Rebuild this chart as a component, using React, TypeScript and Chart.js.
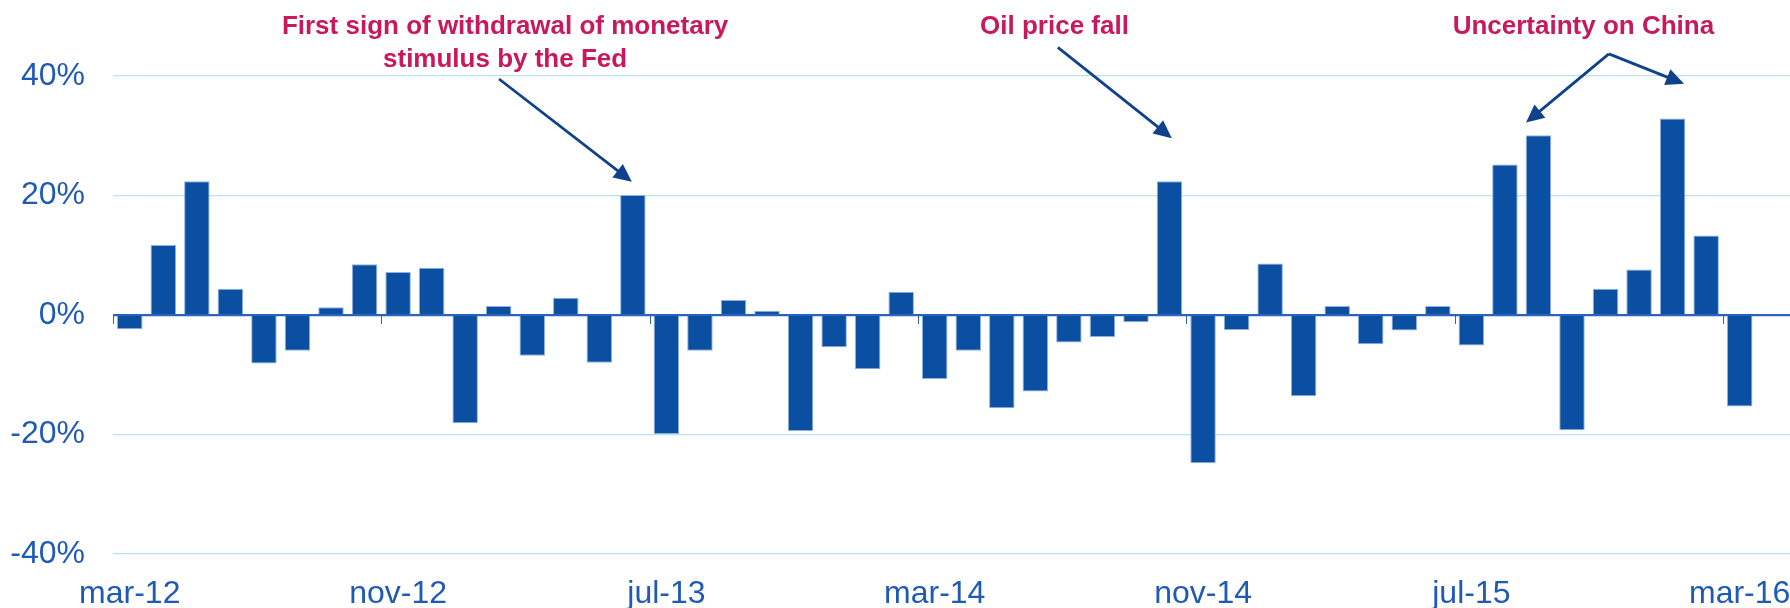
import React, { useEffect, useRef } from 'react';
import { Chart, registerables } from 'chart.js';

Chart.register(...registerables);

// Monthly categories (the last slot is an empty spacer that the original axis keeps)
const months: string[] = [
  'mar-12', 'apr-12', 'may-12', 'jun-12', 'jul-12', 'aug-12', 'sep-12', 'oct-12',
  'nov-12', 'dec-12', 'jan-13', 'feb-13', 'mar-13', 'apr-13', 'may-13', 'jun-13',
  'jul-13', 'aug-13', 'sep-13', 'oct-13', 'nov-13', 'dec-13', 'jan-14', 'feb-14',
  'mar-14', 'apr-14', 'may-14', 'jun-14', 'jul-14', 'aug-14', 'sep-14', 'oct-14',
  'nov-14', 'dec-14', 'jan-15', 'feb-15', 'mar-15', 'apr-15', 'may-15', 'jun-15',
  'jul-15', 'aug-15', 'sep-15', 'oct-15', 'nov-15', 'dec-15', 'jan-16', 'feb-16',
  'mar-16', '',
];

// Monthly change (%)
const changes: (number | null)[] = [
  -2.4, 11.7, 22.4, 4.4, -8.1, -6.0, 1.3, 8.5,
  7.2, 7.9, -18.1, 1.5, -6.8, 2.9, -8.0, 20.1,
  -19.9, -6.0, 2.5, 0.7, -19.4, -5.4, -9.1, 3.9,
  -10.7, -6.0, -15.6, -12.8, -4.6, -3.7, -1.2, 22.4,
  -24.8, -2.5, 8.6, -13.6, 1.5, -4.9, -2.6, 1.5,
  -5.1, 25.2, 30.1, -19.3, 4.4, 7.6, 32.9, 13.3,
  -15.3, null,
];

const yMin = -40;
const yMax = 40;
const yStep = 20;
const labelEvery = 8;

// Annotation texts, placed in data coordinates (category index, baseline value)
const noteLines: string[][] = [
  ['First sign of withdrawal of monetary', 'stimulus by the Fed'],
  ['Oil price fall'],
  ['Uncertainty on China'],
];
const noteX: number[] = [11.19, 27.57, 43.34];
const noteY: number[][] = [[47.0, 41.5], [47.0], [47.0]];

// Arrows: [fromIndex, fromValue, toIndex, toValue]
const arrows: number[][] = [
  [11.01, 39.5, 14.97, 22.3],
  [27.67, 44.8, 31.07, 29.6],
  [44.1, 43.7, 41.63, 32.2],
  [44.1, 43.7, 46.34, 38.7],
];

const BAR = '#0B4FA3';
const TEXT_BLUE = '#1F5AB4';
const GRID = '#BCE2F2';
const ZERO = '#2B63B9';
const NOTE = '#C8185E';
const ARROW = '#10418A';
const FONT = '"Liberation Sans", Arial, Helvetica, sans-serif';

const overlayPlugin = {
  id: 'overlay',
  afterDraw(chart: any) {
    const { ctx, scales } = chart;
    const x = scales.x;
    const y = scales.y;
    const half = (x.getPixelForValue(1) - x.getPixelForValue(0)) / 2;
    const y0 = y.getPixelForValue(0);

    ctx.save();
    // small tick marks below the zero line at labelled categories
    ctx.strokeStyle = ZERO;
    ctx.lineWidth = 1;
    for (let i = 0; i < months.length; i += labelEvery) {
      if (!months[i]) continue;
      const px = Math.round(x.getPixelForValue(i) - half) + 0.5;
      ctx.beginPath();
      ctx.moveTo(px, y0);
      ctx.lineTo(px, y0 + 9);
      ctx.stroke();
    }

    // arrows
    ctx.strokeStyle = ARROW;
    ctx.fillStyle = ARROW;
    ctx.lineWidth = 2.8;
    const head = 18;
    const hw = 8.5;
    arrows.forEach(([fi, fv, ti, tv]) => {
      const x1 = x.getPixelForValue(fi);
      const y1 = y.getPixelForValue(fv);
      const x2 = x.getPixelForValue(ti);
      const y2 = y.getPixelForValue(tv);
      const ang = Math.atan2(y2 - y1, x2 - x1);
      const bx = x2 - Math.cos(ang) * head;
      const by = y2 - Math.sin(ang) * head;
      ctx.beginPath();
      ctx.moveTo(x1, y1);
      ctx.lineTo(bx + Math.cos(ang) * 2, by + Math.sin(ang) * 2);
      ctx.stroke();
      ctx.beginPath();
      ctx.moveTo(x2, y2);
      ctx.lineTo(bx + Math.sin(ang) * hw, by - Math.cos(ang) * hw);
      ctx.lineTo(bx - Math.sin(ang) * hw, by + Math.cos(ang) * hw);
      ctx.closePath();
      ctx.fill();
    });

    // annotation texts
    ctx.fillStyle = NOTE;
    ctx.font = `bold 26px ${FONT}`;
    ctx.textAlign = 'center';
    ctx.textBaseline = 'alphabetic';
    noteLines.forEach((lines, k) => {
      const px = x.getPixelForValue(noteX[k]);
      lines.forEach((line, j) => {
        ctx.fillText(line, px, y.getPixelForValue(noteY[k][j]));
      });
    });
    ctx.restore();
  },
};

export default function App() {
  const ref = useRef<HTMLCanvasElement | null>(null);

  useEffect(() => {
    document.body.style.margin = '0';
    if (!ref.current) return;
    const chart = new Chart(ref.current, {
      type: 'bar',
      data: {
        labels: months,
        datasets: [
          {
            data: changes,
            backgroundColor: BAR,
            borderColor: '#8FB1E0',
            borderWidth: 1,
            barPercentage: 0.76,
            categoryPercentage: 1,
          },
        ],
      },
      options: {
        animation: false,
        responsive: false,
        maintainAspectRatio: false,
        layout: { padding: { top: 76, left: 0, right: 0, bottom: 0 } },
        plugins: {
          legend: { display: false },
          tooltip: { enabled: false },
          title: { display: false },
        },
        scales: {
          x: {
            offset: true,
            grid: { display: false, drawTicks: false },
            border: { display: false },
            ticks: {
              autoSkip: false,
              maxRotation: 0,
              minRotation: 0,
              padding: 24,
              color: TEXT_BLUE,
              font: { family: FONT, size: 32, lineHeight: 1 },
              callback: (_v: any, i: number) => (i % labelEvery === 0 && months[i] ? months[i] : null),
            },
            afterFit: (s: any) => {
              s.height = 54;
              s.paddingLeft = 0;
              s.paddingRight = 0;
            },
          },
          y: {
            min: yMin,
            max: yMax,
            border: { display: false },
            grid: {
              drawTicks: false,
              color: (c: any) => (c.tick && c.tick.value === 0 ? ZERO : GRID),
              lineWidth: (c: any) => (c.tick && c.tick.value === 0 ? 2.2 : 1.2),
            },
            ticks: {
              stepSize: yStep,
              padding: 28,
              color: TEXT_BLUE,
              font: { family: FONT, size: 32, lineHeight: 1 },
              callback: (v: any) => `${v}%`,
            },
            afterFit: (s: any) => {
              s.width = 113;
              s.paddingTop = 0;
              s.paddingBottom = 0;
            },
          },
        },
      },
      plugins: [overlayPlugin],
    });
    return () => chart.destroy();
  }, []);

  return (
    <div style={{ width: 1790, height: 608, background: '#fff' }}>
      <canvas ref={ref} width={1790} height={608} style={{ display: 'block' }} />
    </div>
  );
}
